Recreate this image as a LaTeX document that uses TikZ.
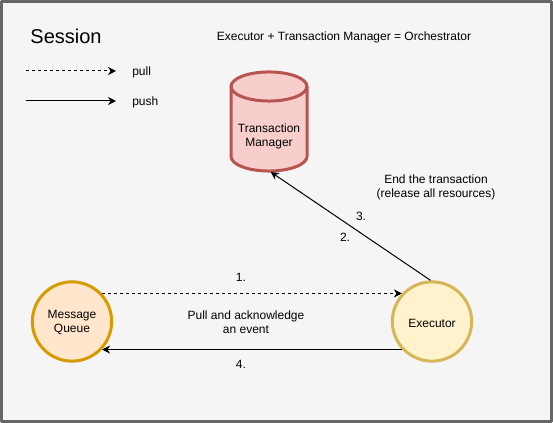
\documentclass[tikz,border=0pt]{standalone}
\usepackage{fontspec}
\setmainfont{Liberation Sans}
\usetikzlibrary{arrows.meta}
\definecolor{framegray}{HTML}{666666}
\definecolor{panelgray}{HTML}{F5F5F5}
\definecolor{tmfill}{HTML}{F8CECC}
\definecolor{tmline}{HTML}{B85450}
\definecolor{mqfill}{HTML}{FFE6CC}
\definecolor{mqline}{HTML}{D79B00}
\definecolor{exfill}{HTML}{FFF2CC}
\definecolor{exline}{HTML}{D6B656}
\begin{document}
\begin{tikzpicture}[x=.75pt,y=-.75pt,>=stealth, font=\fontsize{9}{10.5}\selectfont, line join=round, line cap=butt,
	circ/.style={circle,line width=2.25pt,minimum size=59.5pt,inner sep=0pt},
	lbl/.style={inner sep=0pt,align=center},
	dashline/.style={dash pattern=on 2.25pt off 2.25pt},
	tip/.style={-{Stealth[length=6pt,width=6pt]}}]
	\useasboundingbox (0,0) rectangle (553,423);
	\draw [draw=framegray,fill=panelgray,line width=2.25pt] (1.5,1.5) rectangle (551.5,421.5);
	% nodes
	\draw [draw=tmline,fill=tmfill,line width=2.25pt] (231,86.5) arc[start angle=180,end angle=0,x radius=28.5pt,y radius=10.9pt]--(307,156.5) arc[start angle=0,end angle=-180,x radius=28.5pt,y radius=10.9pt]--cycle;
	\draw [draw=tmline,line width=2.25pt] (231,86.5) arc[start angle=180,end angle=360,x radius=28.5pt,y radius=10.9pt];
	\node [minimum width=57pt,minimum height=75pt,inner sep=0pt,outer sep=0pt] (tm) at (269,122) {};
	\node [circ,draw=mqline,fill=mqfill] (mq) at (72,321.5) {};
	\node [circ,draw=exline,fill=exfill] (ex) at (432,321.5) {};
	% legend
	\coordinate (pullA) at (26,71); \coordinate (pullB) at (116,71);
	\coordinate (pushA) at (26,101); \coordinate (pushB) at (116,101);
	\draw [tip,dashline,line width=.75pt] (pullA)--(pullB);
	\draw [tip,line width=.75pt] (pushA)--(pushB);
	% connectors
	\draw [tip,dashline,line width=.75pt] (mq.43)--(ex.137);
	\draw [tip,line width=.75pt] (ex.223)--(mq.317);
	\draw [tip,line width=.75pt] (ex.92)--(tm.-88);
	% texts
	\path (66,36) node[lbl,font=\fontsize{15}{18}\selectfont] (title){Session}
		(344,37.5) node[lbl] (eq){Executor + Transaction Manager = Orchestrator}
		(132,72) node[lbl,anchor=west] (pull){pull}
		(132,102) node[lbl,anchor=west] (push){push}
		(269,136) node[lbl] (tmtext){Transaction\\Manager}
		(72,323) node[lbl] (mqtext){Message\\Queue}
		(432,323) node[lbl] (extext){Executor}
		(436,187) node[lbl] (endtext){End the transaction\\(release all resources)}
		(246,322) node[lbl] (pulltext){Pull and acknowledge\\an event}
		(241,277) node[lbl] (one){1.}
		(345,237) node[lbl] (two){2.}
		(361,216) node[lbl] (three){3.}
		(241,364) node[lbl] (four){4.};
\end{tikzpicture}
\end{document}
